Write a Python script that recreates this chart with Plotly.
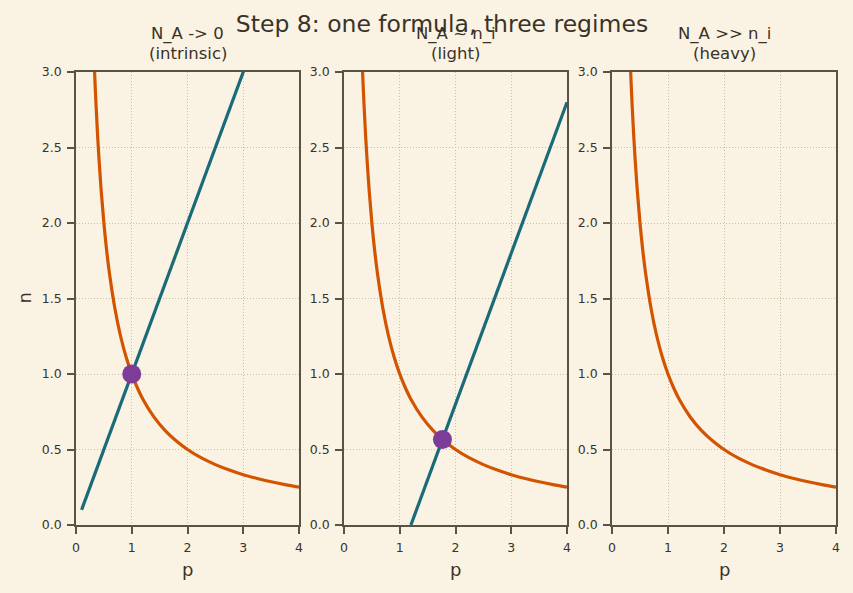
import plotly.graph_objects as go

# Data
titles_top = ["N_A -> 0", "N_A ~ n_i", "N_A >> n_i"]
titles_bottom = ["(intrinsic)", "(light)", "(heavy)"]
# mass-action curve n = n_i^2 / p (n_i = 1), sampled points
curve_p = [0.30, 0.33, 0.36, 0.40, 0.45, 0.50, 0.55, 0.60, 0.70, 0.80, 0.90, 1.00, 1.10, 1.20,
           1.40, 1.60, 1.80, 2.00, 2.25, 2.50, 2.75, 3.00, 3.25, 3.50, 3.75, 4.00]
curve_n = [3.333, 3.030, 2.778, 2.500, 2.222, 2.000, 1.818, 1.667, 1.429, 1.250, 1.111, 1.000, 0.909, 0.833,
           0.714, 0.625, 0.556, 0.500, 0.444, 0.400, 0.364, 0.333, 0.308, 0.286, 0.267, 0.250]
# charge-neutrality lines n = p - N_A
line_p = [[0.1, 4.0], [1.2, 4.0], []]
line_n = [[0.1, 4.0], [0.0, 2.8], []]
# equilibrium points
eq_p = [[1.0], [1.766], []]
eq_n = [[1.0], [0.566], []]

xticks = [0, 1, 2, 3, 4]
yticks = [0.0, 0.5, 1.0, 1.5, 2.0, 2.5, 3.0]
ytick_text = ["0.0", "0.5", "1.0", "1.5", "2.0", "2.5", "3.0"]

ORANGE = "#D35400"
TEAL = "#1A6B78"
PURPLE = "#7D3C98"
BG = "#FAF3E3"
AX = "#5C5244"
TXT = "#3A3228"
GRID = "#C9BFA9"

W, H = 853, 593
xdoms = [(76 / W, 299 / W), (344 / W, 567 / W), (612 / W, 836 / W)]
ydom = (1 - 525 / H, 1 - 72 / H)

fig = go.Figure()
for i in range(3):
    xa = "x" if i == 0 else f"x{i+1}"
    ya = "y" if i == 0 else f"y{i+1}"
    fig.add_trace(go.Scatter(x=curve_p, y=curve_n, mode="lines", line=dict(color=ORANGE, width=3.2, shape="spline"),
                             xaxis=xa, yaxis=ya, showlegend=False, hoverinfo="skip"))
    if line_p[i]:
        fig.add_trace(go.Scatter(x=line_p[i], y=line_n[i], mode="lines", line=dict(color=TEAL, width=3.2),
                                 xaxis=xa, yaxis=ya, showlegend=False, hoverinfo="skip"))
    if eq_p[i]:
        fig.add_trace(go.Scatter(x=eq_p[i], y=eq_n[i], mode="markers", marker=dict(color=PURPLE, size=19),
                                 xaxis=xa, yaxis=ya, showlegend=False, hoverinfo="skip", cliponaxis=False))
    xkey = "xaxis" if i == 0 else f"xaxis{i+1}"
    ykey = "yaxis" if i == 0 else f"yaxis{i+1}"
    common = dict(showline=True, mirror=True, linecolor=AX, linewidth=1.5,
                  ticks="outside", ticklen=7, tickwidth=1.5, tickcolor=AX, ticklabelstandoff=3,
                  showgrid=True, gridcolor=GRID, griddash="1px,2px", gridwidth=1.3, zeroline=False,
                  tickfont=dict(size=12.5, color=TXT), automargin=False)
    fig.layout[xkey] = dict(domain=list(xdoms[i]), anchor=ya, range=[0, 4], tickvals=xticks,
                            ticktext=[str(t) for t in xticks], **common)
    fig.layout[ykey] = dict(domain=list(ydom), anchor=xa, range=[0, 3], tickvals=yticks, ticktext=ytick_text,
                            **common)
    xc = (xdoms[i][0] + xdoms[i][1]) / 2
    fig.add_annotation(text=titles_top[i], x=xc, y=1 - 34 / H, xref="paper", yref="paper",
                       yanchor="middle", xanchor="center", showarrow=False,
                       font=dict(size=16.5, color=TXT))
    fig.add_annotation(text=titles_bottom[i], x=xc, y=1 - 54 / H, xref="paper", yref="paper",
                       yanchor="middle", xanchor="center", showarrow=False,
                       font=dict(size=16.5, color=TXT))
    fig.add_annotation(text="p", x=xc, y=1 - 569 / H, xref="paper", yref="paper",
                       yanchor="middle", xanchor="center", showarrow=False,
                       font=dict(size=18, color=TXT))

fig.add_annotation(text="n", x=24 / W, y=ydom[0] / 2 + ydom[1] / 2, xref="paper", yref="paper",
                   yanchor="middle", xanchor="center", showarrow=False, textangle=-90,
                   font=dict(size=18, color=TXT))

fig.update_layout(
    width=W, height=H, paper_bgcolor=BG, plot_bgcolor=BG,
    margin=dict(l=0, r=0, t=0, b=0),
    font=dict(family="DejaVu Sans", color=TXT),
    title=dict(text="Step 8: one formula, three regimes", x=442 / W, xanchor="center", y=1 - 24 / H, yanchor="middle",
               font=dict(size=23.5, color=TXT)),
)

fig.write_html("out.html")
